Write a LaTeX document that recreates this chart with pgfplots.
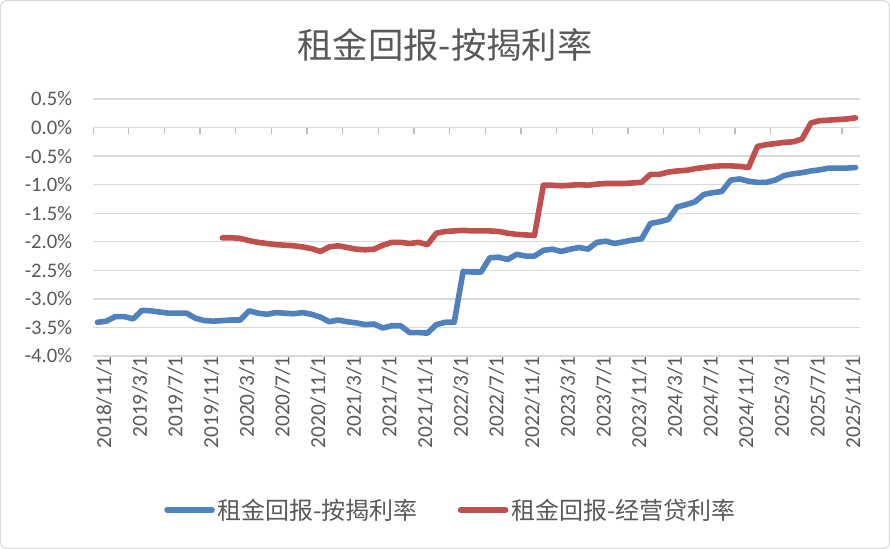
\documentclass[border=0pt]{standalone}
\usepackage{pgfplots}
\pgfplotsset{compat=1.18}
\usepackage{pgfplotstable}
\usepackage{fontspec}
\setmainfont{Carlito}
\newfontfamily\cjk{Noto Sans CJK SC}
\definecolor{sblue}{HTML}{4F81BD}
\definecolor{sred}{HTML}{C0504D}
\definecolor{gridc}{HTML}{D9D9D9}
\definecolor{txt}{HTML}{595959}

\pgfplotstableread{
i v
0 -3.41
1 -3.39
2 -3.31
3 -3.31
4 -3.35
5 -3.20
6 -3.21
7 -3.23
8 -3.25
9 -3.25
10 -3.25
11 -3.34
12 -3.38
13 -3.39
14 -3.38
15 -3.37
16 -3.37
17 -3.21
18 -3.25
19 -3.27
20 -3.24
21 -3.25
22 -3.26
23 -3.24
24 -3.27
25 -3.32
26 -3.40
27 -3.37
28 -3.40
29 -3.42
30 -3.45
31 -3.44
32 -3.51
33 -3.47
34 -3.47
35 -3.59
36 -3.59
37 -3.60
38 -3.45
39 -3.41
40 -3.41
41 -2.52
42 -2.53
43 -2.53
44 -2.28
45 -2.27
46 -2.31
47 -2.22
48 -2.25
49 -2.25
50 -2.15
51 -2.13
52 -2.17
53 -2.13
54 -2.10
55 -2.13
56 -2.01
57 -1.99
58 -2.03
59 -2.00
60 -1.97
61 -1.95
62 -1.68
63 -1.65
64 -1.61
65 -1.39
66 -1.35
67 -1.30
68 -1.17
69 -1.14
70 -1.12
71 -0.92
72 -0.90
73 -0.94
74 -0.96
75 -0.96
76 -0.92
77 -0.84
78 -0.81
79 -0.79
80 -0.76
81 -0.74
82 -0.71
83 -0.71
84 -0.71
85 -0.70
}\bluedata

\pgfplotstableread{
i v
14 -1.93
15 -1.93
16 -1.94
17 -1.98
18 -2.01
19 -2.03
20 -2.05
21 -2.06
22 -2.07
23 -2.09
24 -2.12
25 -2.17
26 -2.09
27 -2.07
28 -2.10
29 -2.13
30 -2.14
31 -2.13
32 -2.06
33 -2.01
34 -2.01
35 -2.03
36 -2.01
37 -2.05
38 -1.85
39 -1.82
40 -1.81
41 -1.80
42 -1.81
43 -1.81
44 -1.81
45 -1.82
46 -1.85
47 -1.87
48 -1.88
49 -1.89
50 -1.01
51 -1.01
52 -1.02
53 -1.01
54 -1.00
55 -1.01
56 -0.99
57 -0.98
58 -0.98
59 -0.98
60 -0.97
61 -0.96
62 -0.82
63 -0.82
64 -0.78
65 -0.76
66 -0.75
67 -0.72
68 -0.70
69 -0.68
70 -0.67
71 -0.67
72 -0.68
73 -0.70
74 -0.33
75 -0.30
76 -0.28
77 -0.26
78 -0.25
79 -0.20
80 0.08
81 0.12
82 0.13
83 0.14
84 0.15
85 0.17
}\reddata

\begin{document}
\begin{tikzpicture}
\useasboundingbox (0,0) rectangle (667.5pt,411.75pt);
\draw[gridc, line width=0.75pt, rounded corners=4pt] (0.5pt,0.5pt) rectangle (667pt,411.25pt);
\node[font=\cjk\fontsize{26.5}{30}\selectfont, text=txt] at (333.75pt,378pt) {租金回报-按揭利率};
\begin{axis}[
  at={(69.75pt,144.75pt)}, anchor=south west,
  scale only axis, width=575.25pt, height=192.75pt,
  xmin=-0.5, xmax=85.5, ymin=-4, ymax=0.5,
  axis line style={draw=none},
  ymajorgrids, grid style={gridc, line width=1pt},
  major tick length=0pt,
  ytick={-4,-3.5,-3,-2.5,-2,-1.5,-1,-0.5,0,0.5},
  yticklabel={\pgfmathprintnumber[fixed,fixed zerofill,precision=1,assume math mode=true]{\tick}\%},
  yticklabel style={anchor=east, inner sep=0pt, xshift=-15.5pt, font=\fontsize{15.5}{18}\selectfont},
  xtick={0,4,...,84},
  xticklabels={2018/11/1,2019/3/1,2019/7/1,2019/11/1,2020/3/1,2020/7/1,2020/11/1,2021/3/1,2021/7/1,2021/11/1,2022/3/1,2022/7/1,2022/11/1,2023/3/1,2023/7/1,2023/11/1,2024/3/1,2024/7/1,2024/11/1,2025/3/1,2025/7/1,2025/11/1},
  xticklabel style={rotate=90, anchor=east, inner sep=0pt, yshift=-5pt, font=\fontsize{16}{18}\selectfont},
  tick label style={text=txt},
  legend style={at={(axis description cs:0.467,-0.599)}, anchor=center, draw=none, fill=none,
    legend columns=2, font=\cjk\fontsize{18}{20}\selectfont, text=txt,
    /tikz/every even column/.append style={column sep=28pt}},
  legend image code/.code={\draw[#1, line width=4.2pt] (0pt,0pt) -- (33.75pt,0pt);},
]
\pgfplotsinvokeforeach{-0.5,3.5,...,83.5}{
  \draw[gridc!70!gray, line width=1pt] (axis cs:#1,0) -- ([yshift=-4.5pt]axis cs:#1,0);
}
\addplot[sblue, line width=4.2pt, line join=round, line cap=round] table[x=i,y=v] {\bluedata};
\addlegendentry{租金回报-按揭利率}
\addplot[sred, line width=4.2pt, line join=round, line cap=round] table[x=i,y=v] {\reddata};
\addlegendentry{租金回报-经营贷利率}
\end{axis}
\end{tikzpicture}
\end{document}
